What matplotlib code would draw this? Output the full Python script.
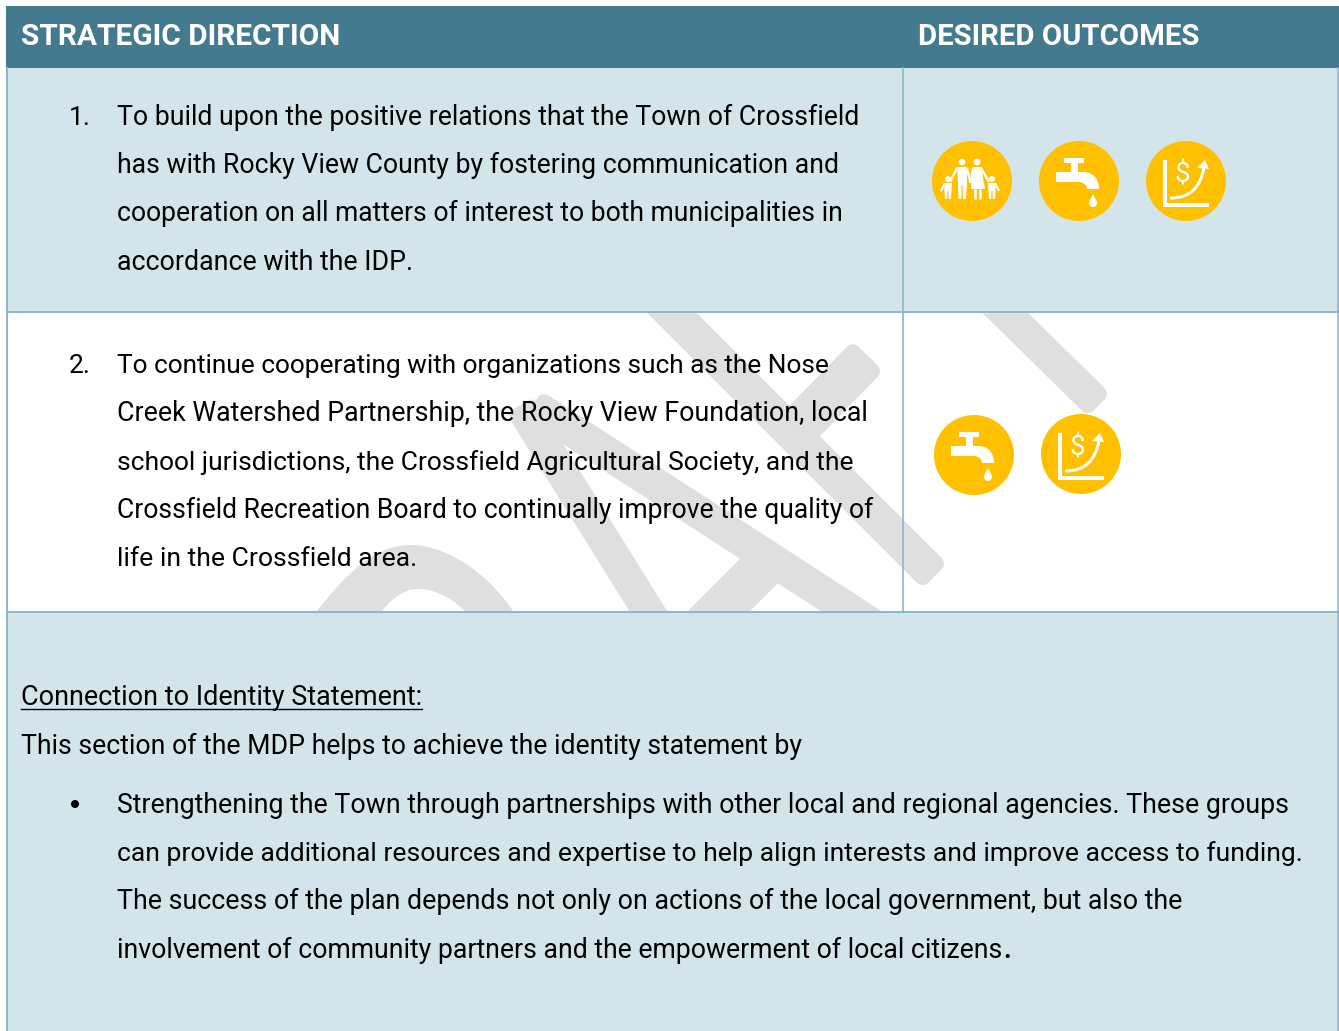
import matplotlib
matplotlib.use('Agg')
import matplotlib.pyplot as plt
from matplotlib.patches import Circle, Polygon, PathPatch, Rectangle
from matplotlib.path import Path
import numpy as np

W, H = 1339, 1031
FONT = 'Roboto'
HEADER_BG = '#447a8f'
LIGHT_BG = '#d3e5ea'
BORDER = '#8bb8c7'
YELLOW = '#ffc000'
WATERMARK = '#dfdfdf'

headers = ['STRATEGIC DIRECTION', 'DESIRED OUTCOMES']
header_x = [21, 918]
header_right = [340, 1200]

# text, baseline, right edge
row1_lines = [
    'To build upon the positive relations that the Town of Crossfield',
    'has with Rocky View County by fostering communication and',
    'cooperation on all matters of interest to both municipalities in',
    'accordance with the IDP.',
]
row1_y = [125, 173, 221, 270]
row1_right = [859, 839, 846, 413]

row2_lines = [
    'To continue cooperating with organizations such as the Nose',
    'Creek Watershed Partnership, the Rocky View Foundation, local',
    'school jurisdictions, the Crossfield Agricultural Society, and the',
    'Crossfield Recreation Board to continually improve the quality of',
    'life in the Crossfield area.',
]
row2_y = [373, 421, 470, 518, 566]
row2_right = [834, 865, 856, 874, 416]

bullet_lines = [
    'Strengthening the Town through partnerships with other local and regional agencies. These groups',
    'can provide additional resources and expertise to help align interests and improve access to funding.',
    'The success of the plan depends not only on actions of the local government, but also the',
    'involvement of community partners and the empowerment of local citizens',
]
bullet_y = [813, 861, 909, 958]
bullet_right = [1289, 1303, 1182, 1002]

# watermark strokes: x0, y0, x1, y1, width in px
wm_strokes = [
    (650, 291, 935, 576, 35),
    (985, 293, 1099, 405, 32),
    (868, 356, 790, 436, 43),
    (775, 555, 699, 631, 44),
    (520, 405, 660, 630, 32),
    (533, 405, 885, 633, 33),
]

row1_icons = [('family', 972, 181), ('tap', 1079, 181), ('chart', 1186, 181)]
row2_icons = [('tap', 974, 455), ('chart', 1081, 454)]

fig = plt.figure(figsize=(W / 100, H / 100), dpi=100)
ax = fig.add_axes([0, 0, 1, 1])
ax.set_xlim(0, W)
ax.set_ylim(H, 0)
ax.axis('off')
renderer = fig.canvas.get_renderer()


def fit_text(s, x, y, right, size=18.5, color='black', weight='normal'):
    """Text whose size is tuned so it ends at the given right edge"""
    t = ax.text(x, y, s, family=FONT, fontsize=size, color=color, weight=weight,
                ha='left', va='baseline', zorder=6)
    for _ in range(3):
        w = t.get_window_extent(renderer).width
        size = size * (right - x) / w
        t.set_fontsize(size)
    return t


def wm_stroke(x0, y0, x1, y1, wid, clip, r=8):
    """Watermark bar with slightly rounded corners"""
    a, b = np.array([x0, y0], float), np.array([x1, y1], float)
    d = (b - a) / np.hypot(*(b - a))
    n = np.array([-d[1], d[0]]) * (wid / 2 - r)
    a, b = a + d * r, b - d * r
    p = Polygon([a + n, b + n, b - n, a - n], closed=True, fc=WATERMARK, ec=WATERMARK,
                lw=2 * r * 0.72, joinstyle='round', zorder=2)
    ax.add_patch(p)
    p.set_clip_path(clip)


def white_line(cx, cy, xs, ys, lw):
    ax.plot(np.array(xs) + cx, np.array(ys) + cy, color='white', lw=lw * 0.72,
            solid_capstyle='butt', solid_joinstyle='round', zorder=5)


def white_poly(cx, cy, pts):
    ax.add_patch(Polygon(np.array(pts) + [cx, cy], closed=True, fc='white', ec='none', zorder=5))


def white_dot(cx, cy, x, y, r):
    ax.add_patch(Circle((cx + x, cy + y), r, fc='white', ec='none', zorder=5))


def draw_family(cx, cy):
    # man
    white_dot(cx, cy, -10, -19, 3.4)
    white_poly(cx, cy, [(-15, -14), (-5, -14), (-5, 2), (-6, 18), (-9, 18), (-9.5, 4), (-10.5, 4), (-10.5, 18), (-13.5, 18), (-14, 2)])
    white_line(cx, cy, [-15, -22], [-13, 1], 2.4)
    white_line(cx, cy, [-5, -1.5], [-13, 2], 2.2)
    # woman
    white_dot(cx, cy, 5, -19, 3.4)
    white_poly(cx, cy, [(1, -14), (9, -14), (13, 8), (-1, 8)])
    white_line(cx, cy, [3, 3], [8, 18], 2.6)
    white_line(cx, cy, [8, 8], [8, 18], 2.6)
    white_line(cx, cy, [1, -1.5], [-13, 2], 2.2)
    white_line(cx, cy, [9, 17], [-13, 1], 2.4)
    # kids
    for kx, ax_out in [(-24, -31), (20, 27)]:
        white_dot(cx, cy, kx, -2, 2.9)
        white_poly(cx, cy, [(kx - 4, 2), (kx + 4, 2), (kx + 3, 18), (kx + 0.7, 18), (kx + 0.5, 10), (kx - 0.5, 10), (kx - 0.7, 18), (kx - 3, 18)])
        white_line(cx, cy, [kx - np.sign(kx - ax_out) * 3, ax_out], [2, 10], 2.2)


def draw_tap(cx, cy):
    white_poly(cx, cy, [(-15, -23), (5, -23), (5, -18), (-15, -18)])
    white_poly(cx, cy, [(-8, -19), (-1, -19), (-1, -9), (-8, -9)])
    verts = [(-23, -9), (4, -9), (16, -9), (20, 0), (20, 8), (8, 8), (8, 4), (4, 1), (0, 1), (-23, 1), (-23, -9)]
    codes = [Path.MOVETO, Path.LINETO, Path.CURVE4, Path.CURVE4, Path.CURVE4, Path.LINETO,
             Path.CURVE4, Path.CURVE4, Path.CURVE4, Path.LINETO, Path.CLOSEPOLY]
    ax.add_patch(PathPatch(Path(np.array(verts, float) + [cx, cy], codes), fc='white', ec='none', zorder=5))
    # drop
    white_poly(cx, cy, [(14, 13), (18, 21), (10, 21)])
    white_dot(cx, cy, 14, 22, 4)


def draw_chart(cx, cy):
    white_poly(cx, cy, [(-23.5, -21), (-19.5, -21), (-19.5, 22), (23, 22), (23, 26), (-23.5, 26)])
    ax.text(cx - 4, cy - 6, '$', family=FONT, fontsize=20, color='white',
            ha='center', va='center', zorder=5)
    verts = [(-16, 17), (5, 17), (14, 6), (18, -13)]
    codes = [Path.MOVETO, Path.CURVE4, Path.CURVE4, Path.CURVE4]
    ax.add_patch(PathPatch(Path(np.array(verts, float) + [cx, cy], codes), fc='none', ec='white',
                            lw=3 * 0.72, zorder=5))
    white_poly(cx, cy, [(19, -21), (23, -12), (11, -13)])


ICONS = {'family': draw_family, 'tap': draw_tap, 'chart': draw_chart}

# table backgrounds
ax.add_patch(Rectangle((6, 6), W - 6, 62, fc=HEADER_BG, ec='none', zorder=1))
ax.add_patch(Rectangle((6, 68), W - 6, 244, fc=LIGHT_BG, ec='none', zorder=1))
ax.add_patch(Rectangle((6, 612), W - 6, H - 612, fc=LIGHT_BG, ec='none', zorder=1))

# watermark, only shows in the white row
clip = Rectangle((7, 313), W - 7, 298, transform=ax.transData)
for x0, y0, x1, y1, wid in wm_strokes:
    wm_stroke(x0, y0, x1, y1, wid, clip)
arc_verts = [(317, 611), (345, 575), (375, 545), (410, 545), (445, 545), (485, 570), (513, 611),
             (465, 611), (450, 597), (435, 589), (418, 589), (405, 589), (393, 597), (382, 611), (317, 611)]
arc_codes = [Path.MOVETO] + [Path.CURVE4] * 6 + [Path.LINETO] + [Path.CURVE4] * 6 + [Path.CLOSEPOLY]
arc = PathPatch(Path(arc_verts, arc_codes), fc=WATERMARK, ec='none', zorder=2)
ax.add_patch(arc)
arc.set_clip_path(clip)

# borders
for y in [312, 611.5]:
    ax.plot([7, W], [y, y], color=BORDER, lw=1.4, zorder=3)
ax.plot([903, 903], [68, 612], color=BORDER, lw=1.2, zorder=3)
ax.plot([6.7, 6.7], [68, H], color=BORDER, lw=1.4, zorder=3)
ax.plot([1338.3, 1338.3], [68, H], color=BORDER, lw=1.2, zorder=3)

# text
for s, x, r in zip(headers, header_x, header_right):
    fit_text(s, x, 45, r, size=19, color='white', weight='bold')

ax.text(69, 125, '1.', family=FONT, fontsize=19, ha='left', va='baseline', zorder=6)
ax.text(69, 373, '2.', family=FONT, fontsize=19, ha='left', va='baseline', zorder=6)
for s, y, r in zip(row1_lines, row1_y, row1_right):
    fit_text(s, 117, y, r)
for s, y, r in zip(row2_lines, row2_y, row2_right):
    fit_text(s, 117, y, r)

fit_text('Connection to Identity Statement:', 21, 705, 422)
ax.plot([21, 422], [708.5, 708.5], color='black', lw=1, zorder=6)
fit_text('This section of the MDP helps to achieve the identity statement by', 21, 754, 804)

ax.add_patch(Circle((75, 804), 4, fc='black', ec='none', zorder=6))
for s, y, r in zip(bullet_lines, bullet_y, bullet_right):
    fit_text(s, 117, y, r)
ax.text(1003, 958, '.', family=FONT, fontsize=18.5, weight='bold', ha='left', va='baseline', zorder=6)

# icons
for name, cx, cy in row1_icons + row2_icons:
    ax.add_patch(Circle((cx, cy), 40, fc=YELLOW, ec='none', zorder=4))
    ICONS[name](cx, cy)

fig.savefig('out.png', dpi=100, facecolor='white')
